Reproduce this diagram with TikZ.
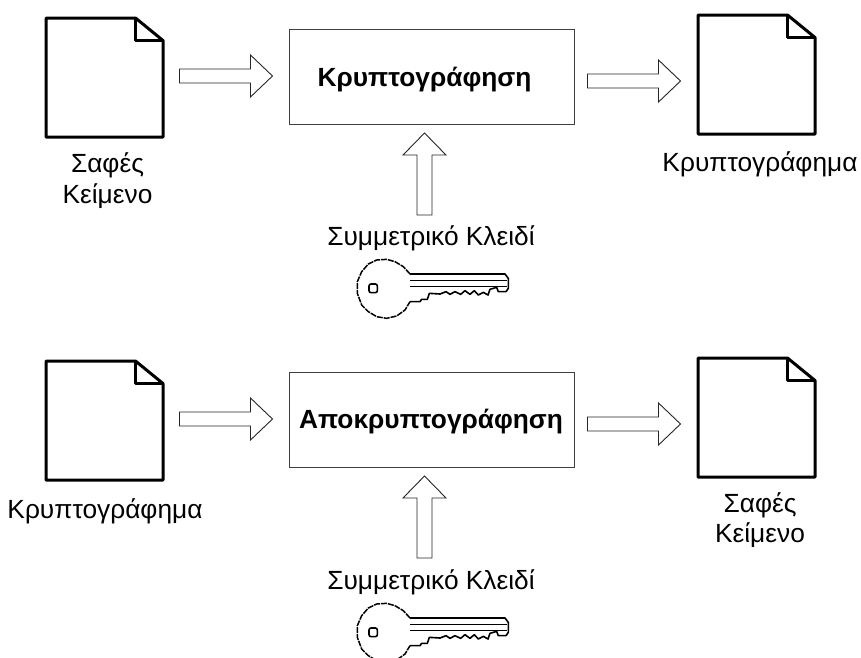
\documentclass[tikz,border=0pt]{standalone}
\usepackage{fontspec}
\setmainfont{Liberation Sans}
\tikzset{
  lbl/.style={font=\fontsize{26.3}{30.6}\selectfont,align=center,inner sep=0pt,anchor=base},
  ttl/.style={font=\fontsize{26.3}{30.6}\selectfont\bfseries,align=center,inner sep=0pt,anchor=base},
  procbox/.style={draw=black!75,line width=1pt,fill=white},
  blockarrow/.style={draw=black!85,line width=0.9pt,fill=white,line join=miter},
  docline/.style={draw=black,line width=3pt,line join=round,fill=white},
  pics/docsheet/.style={code={
    \path[docline] (0,0) -- (89.5,0) -- (117,22.5) -- (117,119) -- (0,119) -- cycle;
    \path[docline,line width=2.6pt,fill=none] (89.5,0) -- (89.5,22.5) -- (117,22.5);
  }},
  pics/rarrow/.style={code={
    \path[blockarrow] (0,-7) -- (71,-7) -- (71,-21) -- (93,0) -- (71,21) -- (71,7) -- (0,7) -- cycle;
  }},
  pics/uarrow/.style={code={
    \path[blockarrow] (-7.5,0) -- (-7.5,-60) -- (-21.5,-60) -- (0,-82) -- (21.5,-60) -- (7.5,-60) -- (7.5,0) -- cycle;
  }},
  pics/keyicon/.style={code={
    \begin{scope}[x=0.3333pt,y=-0.3333pt,line join=round,draw=black]
    \draw[line width=1.5pt,dash pattern=on 6pt off 1pt]
      (210,72) -- (190,50) -- (165,35) -- (140,28) -- (110,30) -- (85,42) -- (65,65) -- (52,95) -- (52,130)
      -- (65,165) -- (85,185) -- (110,200) -- (140,205) -- (170,198) -- (195,180) -- (210,155);
    \draw[line width=1.6pt]
      (210,72) -- (495,72) -- (505,85) -- (505,115) -- (498,125) -- (475,125) -- (470,112) -- (450,118) -- (444,135)
      -- (430,127) -- (415,135) -- (403,122) -- (390,133) -- (375,122) -- (362,133) -- (345,125) -- (330,133)
      -- (318,125) -- (300,132) -- (268,130) -- (262,148) -- (245,148) -- (240,155) -- (210,155);
    \draw[line width=1.6pt] (210,92) -- (500,92) (210,110) -- (500,110);
    \draw[line width=1.6pt,rounded corners=2pt] (87,102) rectangle (112,128);
    \end{scope}
  }},
}
\begin{document}
\begin{tikzpicture}[x=1pt,y=-1pt]
\useasboundingbox[fill=white] (0,0) rectangle (861,657);
% top row
\pic (d1) at (46,18) {docsheet};
\pic (a1) at (179.5,76) {rarrow};
\node[procbox,minimum width=285pt,minimum height=95pt,anchor=north west,inner sep=0pt] (enc) at (289,29) {};
\node[ttl] (enct) at (424.5,86.5) {Κρυπτογράφηση};
\pic (a2) at (587.5,81) {rarrow};
\pic (d2) at (698,15) {docsheet};
\pic (a3) at (424.5,215) {uarrow};
\node[lbl] (l1a) at (107.5,172.7) {Σαφές};
\node[lbl] (l1b) at (107.5,203) {Κείμενο};
\node[lbl] (l2) at (760,171.7) {Κρυπτογράφημα};
\node[lbl] (l3) at (431,245) {Συμμετρικό Κλειδί};
\pic (k1) at (340,250) {keyicon};
% bottom row
\pic (d3) at (46,361) {docsheet};
\pic (a4) at (179.5,419) {rarrow};
\node[procbox,minimum width=285pt,minimum height=95pt,anchor=north west,inner sep=0pt] (dec) at (289,372) {};
\node[ttl] (dect) at (431,428) {Αποκρυπτογράφηση};
\pic (a5) at (587.5,424) {rarrow};
\pic (d4) at (698,358) {docsheet};
\pic (a6) at (424.5,558) {uarrow};
\node[lbl] (l4) at (105,518) {Κρυπτογράφημα};
\node[lbl] (l5a) at (760,512) {Σαφές};
\node[lbl] (l5b) at (760,542.5) {Κείμενο};
\node[lbl] (l6) at (431,589) {Συμμετρικό Κλειδί};
\begin{scope}
\clip (0,0) rectangle (861,657);
\pic (k2) at (340,594) {keyicon};
\end{scope}
\end{tikzpicture}
\end{document}
